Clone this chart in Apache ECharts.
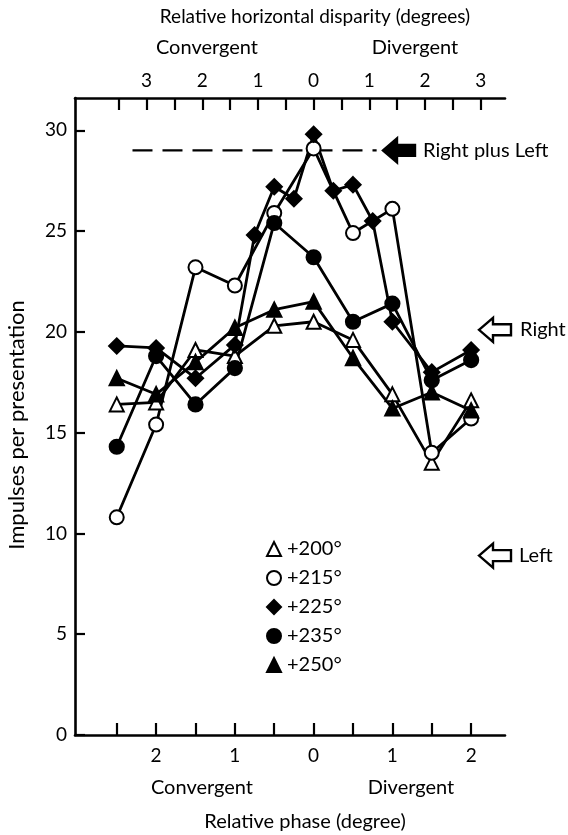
<!DOCTYPE html>
<html>
<head>
<meta charset="utf-8">
<script src="https://cdn.jsdelivr.net/npm/echarts@6/dist/echarts.min.js"></script>
<style>
html,body{margin:0;padding:0;background:#fff;}
#chart{width:568px;height:835px;}
</style>
</head>
<body>
<div id="chart"></div>
<script>
// ---- data ----
const phaseX = [-2.5, -2, -1.5, -1, -0.5, 0, 0.5, 1, 1.5, 2];
const phaseX225 = [-2.5, -2, -1.5, -1, -0.75, -0.5, -0.25, 0, 0.25, 0.5, 0.75, 1, 1.5, 2];
const s200 = [16.4, 16.5, 19.1, 18.8, 20.3, 20.5, 19.6, 16.9, 13.5, 16.6];
const s215 = [10.8, 15.4, 23.2, 22.3, 25.9, 29.1, 24.9, 26.1, 14.0, 15.7];
const s225 = [19.3, 19.2, 17.7, 19.35, 24.8, 27.2, 26.6, 29.8, 27.0, 27.3, 25.5, 20.5, 18.0, 19.1];
const s235 = [14.3, 18.8, 16.4, 18.2, 25.4, 23.7, 20.5, 21.4, 17.6, 18.6];
const s250 = [17.7, 16.9, 18.5, 20.2, 21.1, 21.5, 18.7, 16.2, 17.0, 16.1];
const seriesNames = ['+200°', '+215°', '+225°', '+235°', '+250°'];
const yTicks = [0, 5, 10, 15, 20, 25, 30];
const phaseTicks = [-2.5, -2, -1.5, -1, -0.5, 0, 0.5, 1, 1.5, 2];
const phaseLabels = [-2, -1, 0, 1, 2];
const dispTicks = [-3.5, -3, -2.5, -2, -1.5, -1, -0.5, 0, 0.5, 1, 1.5, 2, 2.5, 3];
const dispLabels = [-3, -2, -1, 0, 1, 2, 3];
const sumLevel = 29;      // Right plus Left
const rightLevel = 20.1;  // Right
const leftLevel = 8.9;    // Left

// ---- layout / style ----
const FONT = 'Lato';
const PMIN = -3.03, PMAX = 2.43;
const RATIO = Math.SQRT2; // disparity degrees per phase unit
const pair = (xs, ys) => xs.map((x, i) => [x, ys[i]]);
const absFmt = v => String(Math.abs(Math.round(v)));

const chart = echarts.init(document.getElementById('chart'), null, {renderer: 'canvas'});

function lineSeries(name, xs, ys, symbol, size) {
  return {
    name, type: 'line', xAxisIndex: 0, yAxisIndex: 0,
    data: pair(xs, ys),
    symbol, symbolSize: size,
    showAllSymbol: true,
    lineStyle: {color: '#000', width: 2.8},
    itemStyle: {color: '#000', borderColor: '#000', borderWidth: 2.2},
    emphasis: {disabled: true},
    animation: false, z: 3
  };
}

const axisLineStyle = {color: '#000', width: 2.6};

chart.setOption({
  animation: false,
  backgroundColor: '#fff',
  grid: {left: 75, right: 63, top: 98, bottom: 100, containLabel: false},
  xAxis: [
    {
      type: 'value', position: 'bottom', min: PMIN, max: PMAX,
      axisLine: {show: true, onZero: false, lineStyle: axisLineStyle},
      axisTick: {show: true, inside: true, length: 12, customValues: phaseTicks, lineStyle: {color: '#000', width: 2.2}},
      axisLabel: {show: true, customValues: phaseLabels, formatter: absFmt, margin: 11, color: '#000', fontSize: 19, fontFamily: FONT},
      splitLine: {show: false}
    },
    {
      type: 'value', position: 'top', min: PMIN * RATIO, max: PMAX * RATIO,
      axisLine: {show: true, onZero: false, lineStyle: axisLineStyle},
      axisTick: {show: true, inside: true, length: 12, customValues: dispTicks, lineStyle: {color: '#000', width: 2.2}},
      axisLabel: {show: true, customValues: dispLabels, formatter: absFmt, margin: 8, color: '#000', fontSize: 19, fontFamily: FONT},
      splitLine: {show: false}
    }
  ],
  yAxis: {
    type: 'value', min: 0, max: 31.6,
    axisLine: {show: true, onZero: false, lineStyle: axisLineStyle},
    axisTick: {show: true, inside: true, length: 10, customValues: yTicks, lineStyle: {color: '#000', width: 2.2}},
    axisLabel: {show: true, customValues: yTicks, margin: 8, color: '#000', fontSize: 19, fontFamily: FONT},
    splitLine: {show: false}
  },
  legend: {
    orient: 'vertical', left: 261, top: 534,
    itemWidth: 14, itemHeight: 14, itemGap: 9,
    data: [
      {name: '+200°', icon: 'emptyTriangle'},
      {name: '+215°', icon: 'emptyCircle'},
      {name: '+225°', icon: 'diamond'},
      {name: '+235°', icon: 'circle'},
      {name: '+250°', icon: 'triangle'}
    ],
    textStyle: {color: '#000', fontSize: 20, fontFamily: FONT, padding: [0, 0, 0, 1]},
    selectedMode: false
  },
  series: [
    lineSeries(seriesNames[0], phaseX, s200, 'emptyTriangle', 14),
    lineSeries(seriesNames[1], phaseX, s215, 'emptyCircle', 14),
    lineSeries(seriesNames[2], phaseX225, s225, 'diamond', 15),
    lineSeries(seriesNames[3], phaseX, s235, 'circle', 14),
    lineSeries(seriesNames[4], phaseX, s250, 'triangle', 14),
    {
      name: 'sum', type: 'line', data: [[-2.3, sumLevel], [0.8, sumLevel]],
      symbol: 'none', lineStyle: {color: '#000', width: 2.2, type: [20, 10]},
      silent: true, z: 1
    }
  ]
});

// ---- annotations (positioned through the chart's scales) ----
const yPix = v => chart.convertToPixel({gridIndex: 0}, [0, v])[1];
const ySum = yPix(sumLevel), yRight = yPix(rightLevel), yLeft = yPix(leftLevel);

function arrow(tx, ty, filled) {
  const hl = 14, hh = 12, sh = 5.5, len = 32;
  return {
    type: 'polygon',
    shape: {points: [[tx, ty], [tx + hl, ty - hh], [tx + hl, ty - sh], [tx + len, ty - sh], [tx + len, ty + sh], [tx + hl, ty + sh], [tx + hl, ty + hh]]},
    style: {fill: filled ? '#000' : '#fff', stroke: '#000', lineWidth: 2.4, lineJoin: 'miter'},
    z: 10
  };
}
function txt(text, x, y, align, size, extra) {
  return Object.assign({
    type: 'text', x, y,
    style: {text, fill: '#000', fontSize: size, fontFamily: FONT, align, verticalAlign: 'middle'},
    z: 10
  }, extra || {});
}

chart.setOption({
  graphic: [
    txt('Relative horizontal disparity (degrees)', 315, 17, 'center', 19),
    txt('Convergent', 207, 48, 'center', 20),
    txt('Divergent', 415, 48, 'center', 20),
    txt('Convergent', 202, 788, 'center', 20),
    txt('Divergent', 411, 788, 'center', 20),
    txt('Relative phase (degree)', 305, 822, 'center', 20),
    txt('Impulses per presentation', 17, 425, 'center', 22, {rotation: Math.PI / 2}),
    arrow(383, ySum, true),
    txt('Right plus Left', 423, ySum, 'left', 20),
    arrow(479, yRight, false),
    txt('Right', 520, yRight, 'left', 20),
    arrow(479, yLeft, false),
    txt('Left', 519, yLeft, 'left', 20)
  ]
});
</script>
</body>
</html>
